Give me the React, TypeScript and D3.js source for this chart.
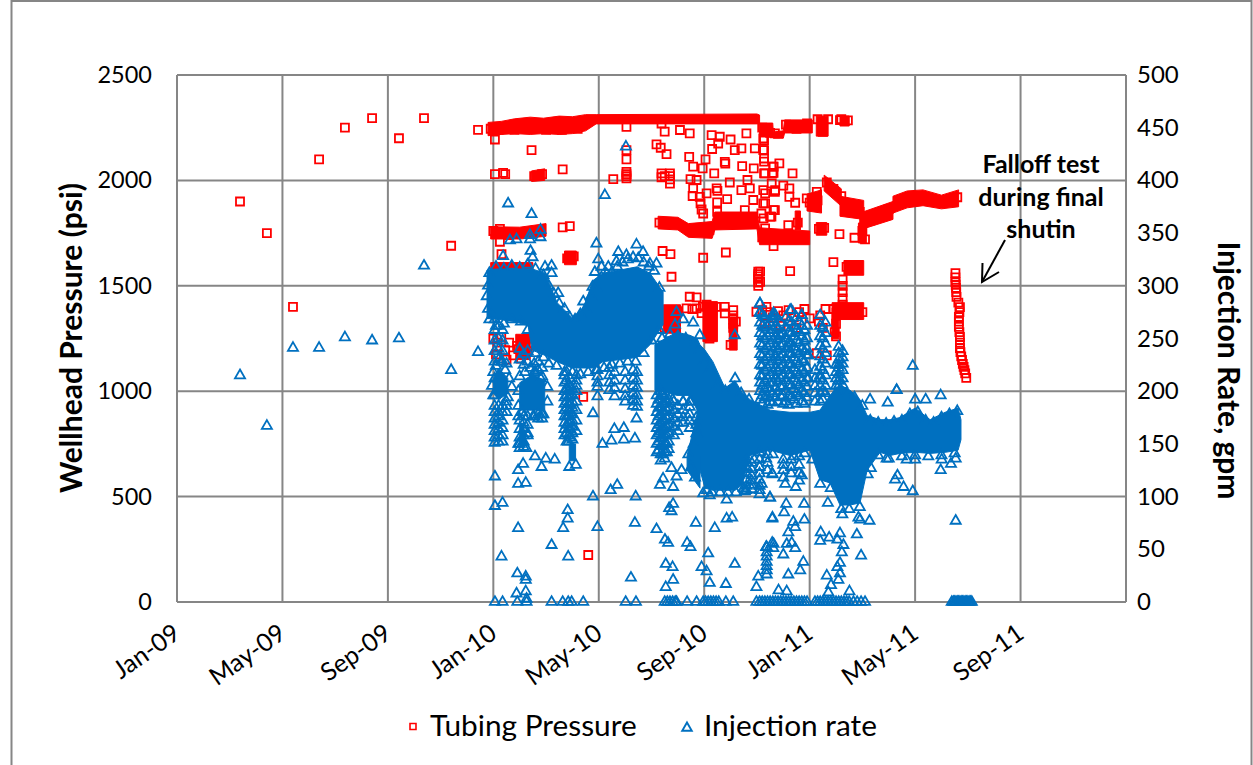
import React from "react";
import * as d3 from "d3";

const xLabels = ["Jan-09","May-09","Sep-09","Jan-10","May-10","Sep-10","Jan-11","May-11","Sep-11"];
const xTickMonths = [0,4,8,12,16,20,24,28,32,36];
const pressureTicks = [0,500,1000,1500,2000,2500];
const rateTicks = [0,50,100,150,200,250,300,350,400,450,500];

// Solid overplotted regions: the individual readings cannot be told apart here, so each one
// is drawn as a filled outline as [month, upper, lower].
const pressureMasses: number[][][] = [
  [[11.8,2275,2212],[12.3,2280,2218],[12.8,2292,2222],[13.4,2300,2218],[13.9,2295,2222],[14.5,2305,2218],[15,2302,2222],[15.5,2312,2235],[15.9,2312,2268],[22,2315,2268],[22.1,2310,2268]],
  [[22.1,2272,2206],[22.6,2272,2206],[22.62,2230,2200],[23,2235,2200],[23.05,2287,2225],[24.1,2287,2225]],
  [[24.25,2305,2210],[24.7,2305,2210]],
  [[25.15,2305,2258],[25.5,2305,2258]],
  [[11.9,1780,1722],[13,1778,1722],[14,1795,1735]],
  [[13.45,2045,1995],[13.95,2055,2000]],
  [[14.7,1665,1600],[15.15,1665,1600]],
  [[18.25,1830,1770],[19,1825,1765],[19.4,1795,1730],[20.3,1805,1725],[20.4,1850,1765],[22,1850,1770],[22.1,1775,1695],[24,1760,1695]],
  [[23.45,1855,1765],[23.65,1855,1765]],
  [[24.25,1800,1740],[24.65,1800,1740]],
  [[23.9,1935,1855],[24.45,1955,1845]],
  [[24.55,2025,1950],[25.2,1960,1878]],
  [[25.15,1925,1830],[26.05,1905,1815]],
  [[25.85,1798,1703],[26.15,1798,1703]],
  [[25.9,1845,1765],[27.16,1900,1815]],
  [[27.16,1925,1845],[27.7,1950,1870],[28.3,1955,1880],[29,1930,1865],[29.65,1955,1875]],
  [[25.3,1620,1550],[26.05,1620,1550]],
  [[24.85,1420,1340],[26.05,1420,1340]],
  [[24.85,1395,1248],[25.1,1395,1248]],
  [[11.9,1610,1565],[13.5,1610,1565]],
  [[12.85,1270,1150],[13.4,1270,1150]],
  [[18.45,1410,1275],[19.1,1410,1275]],
  [[19.95,1425,1235],[20.5,1425,1235]],
  [[20.95,1350,1195],[21.25,1350,1195]],
];
const rateMasses: number[][][] = [
  [[11.76,315,269],[12.25,316,268],[12.82,316,266],[13.32,316,262],[13.47,316,239],[13.96,312,234],[14.42,284,228],[14.98,270,222],[15.4,278,222],[15.78,305,222],[16.16,312,228],[16.81,315,230],[17.45,318,232],[17.94,312,244],[18.44,294,263]],
  [[18.13,244,201],[18.51,250,199],[18.97,256,196],[19.46,253,196],[19.73,250,182],[19.84,244,125],[20.03,239,108],[20.33,228,106],[20.79,203,106],[21.17,210,106],[21.43,199,111],[21.74,192,139],[22.5,182,144],[23.25,180,139],[24.01,180,144],[24.39,182,116],[24.77,196,113],[25.15,206,92],[25.53,201,92],[25.91,192,94],[26.18,177,125],[26.67,173,142],[27.05,173,139],[27.43,175,141],[28,184,142],[28.57,173,141],[29.14,180,142],[29.63,184,144],[29.74,173,154]],
  [[19.35,139,125],[19.84,190,108]],
  [[12,212,198],[12.2,222,192],[12.55,212,198]],
  [[13,208,182],[13.5,216,182],[13.95,210,182]],
  [[13,172,148],[13.22,160,148]],
  [[14.88,150,134],[15.12,150,134]],
];

const pressurePoints: number[][] = [
  [2.39,1900],[3.41,1750],[4.4,1400],[5.39,2100],[6.37,2250],[7.4,2295],[8.42,2200],[9.37,2295],[10.4,1690],[11.42,2240],
  [12.06,2194],[13.45,2144],[12.06,2030],[12.37,2036],[12.45,2030],[14.63,2052],[16.55,2006],[17.05,2100],[17.05,2144],[17.05,2040],[17.05,2030],[17.05,2020],[17.05,2010],[17.05,2254],
  [18.19,2171],[18.35,2155],[18.57,2125],[18.5,2231],[18.38,2270],[19.08,2239],[19.45,2223],[19.43,2112],[20.05,2100],[20.3,2149],[20.28,2215],[20.59,2207],[20.53,2175],[20.78,2088],[20.8,2080],[21,2194],[21.16,2144],[21.6,2223],[21.41,2152],[21.92,2152],[22.24,2199],[22.24,2144],[22.27,2089],[21.44,2068],[21.88,2057],[22.62,2065],[22.68,2223],[22.3,2033],[22.59,2033],
  [19.58,2065],[19.94,2057],[20.38,2033],[19.48,2006],[19.71,2002],[19.58,1962],[20.47,1962],[20.5,1950],[20.97,1990],[19.56,1926],[19.83,1922],[20.09,1938],[19.86,1891],[20.49,1896],[20.87,1911],[19.9,1862],[19.96,1843],[20.49,1851],[21.41,1954],[21.64,2002],[21.73,1962],[22.24,1954],[22.68,1946],[21.54,1859],[21.86,1907],[22.24,1891],[22.68,1859],[22.17,1843],[22.55,1828],
  [18.38,2033],[18.38,2015],[18.7,2033],[18.7,2020],[18.7,2005],[18.7,1985],[18.5,2020],
  [18.76,1543],[19.96,1633],[20.82,1658],[18.42,1665],[18.72,1650],[22.05,1567],[22.05,1555],[22.05,1545],[22.05,1533],[22.05,1515],[22.05,1500],[12.25,1709],[12.31,1650],[14.9,1783],[14.63,1777],[12.25,1770],
  [19.45,1448],[19.71,1445],[19.33,1393],[19.71,1393],[20.09,1410],[20.34,1400],[20.78,1400],[20.78,1369],[21.1,1385],[21.1,1360],[21.1,1340],[21.1,1320],[21.1,1300],[21.98,1377],[22.36,1400],[19.55,1390],[19.9,1370],[20.2,1350],
  [15.41,973],[15.6,223],
  [22.85,2081],[23.35,2033],[22.63,2065],[22.63,2036],[22.27,2191],[22.27,2144],[22.27,2104],[22.27,2033],[22.56,1986],[23,1975],[23.23,1962],[22.69,1954],[23.23,1922],[23.45,1894],[22.31,1938],[22.31,1891],[22.63,1859],[22.5,1828],[22.25,1820],[23.19,1788],[22.31,1772],[22.63,1688],[22.12,1567],[22.12,1519],[23.26,1570],[23.89,1915],[24.27,1946],[25.13,1745],[25.7,1728],[25.15,2286],[24.9,1612],
  [25.25,1530],[25.25,1500],[25.25,1470],[25.25,1440],[25.25,1410],[24.27,1180],[24.65,1170],[24.6,1390],[24.4,1360],[24.35,1330],[24.5,1300],
  [22.2,1385],[22.4,1375],[22.6,1350],[22.8,1380],[23,1360],[23.2,1385],[23.4,1350],[23.6,1375],[23.8,1390],[24,1345],[22.3,1320],[22.9,1310],[23.5,1300],
  [12,1250],[12.15,1230],[12.3,1255],[12.45,1195],[12.6,1230],[12.75,1170],[12.9,1215],[13.05,1155],[13.2,1240],[12.1,1175],[12.5,1150],[13.3,1190],[14,1215],[14.3,1200],[14.6,1195],
  [29.53,1560],[29.53,1540],[29.53,1518],[29.54,1505],[29.55,1490],[29.56,1470],[29.57,1447],[29.64,1420],[29.7,1399],[29.68,1375],[29.66,1352],[29.66,1330],[29.66,1305],[29.68,1280],[29.7,1257],[29.7,1230],[29.7,1205],[29.72,1185],[29.75,1165],[29.78,1148],[29.81,1130],[29.84,1115],[29.87,1100],[29.9,1085],[29.94,1063],
];

// Squares sitting on the edges of the solid red regions, which give them their lumpy outline.
const pressureEdgePoints: number[][] = [
  [11.9,2245],[12.2,2240],[12.5,2255],[12.8,2240],[13.1,2265],[13.4,2245],[13.7,2270],[14,2240],[14.3,2272],[14.6,2240],[14.9,2272],[15.2,2245],[15.5,2280],
  [22.2,2250],[22.5,2225],[23.1,2265],[23.5,2245],[23.9,2270],[24.3,2290],[24.5,2230],[24.7,2290],[25.2,2290],[25.45,2285],
  [12,1760],[12.3,1745],[12.6,1740],[13,1750],[13.4,1755],[13.8,1765],[13.55,2020],[13.85,2030],[14.8,1630],[15.05,1640],
  [18.3,1800],[18.6,1795],[18.9,1795],[19.5,1770],[19.8,1755],[20.2,1765],[20.6,1815],[21,1820],[21.4,1810],[21.8,1820],[22.2,1730],[22.6,1725],[23,1730],[23.4,1720],[23.8,1735],
  [24,1895],[24.3,1905],[24.65,1990],[24.9,1960],[25.2,1925],[25.5,1870],[25.9,1850],[26,1760],[26.1,1720],[26.3,1810],[26.7,1840],[27,1865],[27.4,1895],[27.8,1915],[28.2,1925],[28.6,1910],[29,1900],[29.4,1905],[29.6,1920],
  [24.9,1390],[25.3,1395],[25.7,1390],[26,1375],[24.95,1280],[25,1260],[25.4,1590],[25.8,1590],[24.35,1770],[24.55,1775],[23.55,1800],[25,1320],
  [19.95,1400],[20.45,1400],[20.2,1250],[18.5,1300],[19,1380],[21,1220],[21.2,1330],[12.95,1200],[13.3,1250],
];

const ratePoints: number[][] = [
  [2.39,215],[3.41,167],[4.4,241],[5.39,241],[6.37,251],[7.4,248],[8.42,250],[9.37,319],[10.4,220],[11.42,237],
  [12.56,378],[13.45,368],[13.79,353],[13.39,348],[13.79,346],[13.39,344],[12.88,344],[12.63,343],[13.41,333],[12.37,328],[13.49,327],[14.21,319],[13.96,318],[14.21,312],[14.46,293],[15.41,285],[16.23,386],[17.03,432],[15.91,340],[15.98,325],[15.85,313],[15.76,299],[16.74,332],[17.05,329],[17.43,339],[17.68,332],[18.19,321],[17.94,321],[16.67,323],[16.36,318],[16.1,318],
  [18.95,275],[19.2,268],[19.58,265],[18.89,263],[19.83,253],[21.16,253],[22.11,283],[22.11,274],[22.62,271],
  [22.63,274],[23.26,277],[23.7,272],[22.88,253],[23.19,242],[22.69,233],[23.95,234],[24.4,215],[23.95,212],[25.09,210],[27.91,224],[27.3,201],
  [12.06,91],[12.35,94],[14.82,87],[14.82,79],[14.65,70],[12.94,70],[15.95,71],[14.21,54],[12.31,43],[14.84,43],[12.91,27],[13.23,24],[13.23,21],[12.88,8],[13.23,10],[13.26,3],
  [15.78,100],[16.45,106],[16.7,111],[17.4,100],[18.82,93],[18.67,89],[18.76,86],[17.37,75],[18.19,69],[19.68,75],[20.4,70],[20.85,79],[21.06,80],[22.58,79],[18.51,59],[18.63,56],[19.35,56],[19.48,52],[20.15,46],[18.54,36],[18.8,33],[19.9,33],[20.09,29],[21.16,36],[17.22,23],[18.82,21],[20.21,18],[20.82,17],[18.54,14],[22.05,24],[22.36,52],[22.58,56],[22.62,51],[21.98,14],
  [15.78,179],[17.43,174],[16.59,164],[16.95,165],[16.48,153],[16.95,154],[17.37,155],[16.14,150],
  [12.06,119],[12.94,125],[13.13,131],[13.58,138],[13.99,136],[14.33,135],[13.83,128],[12.94,112],[13.23,113],[14.88,128],[15.13,130],[18.32,111],[18.44,117],[18.76,127],[19.14,125],[18.82,109],[18.95,119],[19.96,103],[20.21,101],[20.85,97],[21.54,105],[22.49,99],[22.58,122],
  [27.3,201],[28,192],[28.4,192],[28.97,196],[26.29,192],[26.96,189],[29.54,77],[27.91,105],[27.56,109],[27.33,120],[27.24,116],[28.97,125],[29.36,131],[29.54,136],[29.01,135],[27.68,135],[28,135],[26.92,136],[26.32,127],
  [24.69,94],[25.24,83],[25.85,80],[25.91,78],[26.27,77],[25.79,64],[24.42,66],[24.74,61],[25.15,65],[25.05,59],[24.4,58],[25.28,54],[25.22,47],[25.95,44],[25.15,37],[25.05,33],[24.65,25],[25.15,27],[25.09,21],[24.81,16],[25.51,10],[24.71,9],
  [22.5,99],[23.11,93],[23.79,93],[22.59,80],[23.03,85],[23.8,78],[23.38,76],[23.45,71],[23.19,66],[23.13,55],[23.32,56],[22.63,55],[22.35,52],[23.45,51],[23,45],[23.76,38],[23.64,30],[23.19,26],[22.82,11],[23.13,10],
  [22.59,121],[23.7,120],[23.47,109],[23.07,112],[22.18,112],[22.35,136],
];

// Triangles sitting on the edges of the solid blue regions.
const rateEdgePoints: number[][] = [
  [11.85,312],[12.1,318],[12.4,316],[12.7,319],[13,317],[13.3,320],[13.6,316],[13.9,310],[14.1,300],[14.3,292],[14.5,283],[14.7,278],[14.9,270],[15.1,268],[15.3,273],[15.5,278],[15.7,290],[15.9,298],[16.1,308],[16.3,311],[16.5,313],[16.7,318],[16.9,322],[17.1,325],[17.3,327],[17.5,326],[17.7,322],[17.9,318],[18.1,314],[18.3,298],
  [11.8,300],[11.75,290],[11.8,278],[11.85,268],[12.1,262],[12.4,264],[12.7,268],[13.05,266],[13.3,258],
  [13.6,236],[13.9,232],[14.1,226],[14.4,224],[14.7,218],[15,218],[15.3,216],[15.6,218],[15.9,220],[16.2,222],[16.5,225],[16.8,226],[17.1,228],[17.4,228],[17.7,236],[18,248],[18.3,258],
  [18.4,250],[18.7,254],[19,252],[19.3,250],[19.6,244],[19.8,238],[20,228],[20.2,220],[20.5,205],[20.8,200],[21.17,212],[21.4,198],[21.7,192],[26.3,172],[26.6,170],[26.9,169],[27.2,171],[27.5,172],[27.8,178],[28.1,180],[28.4,172],[28.7,170],[29,175],[29.3,178],[29.6,181],[25.4,198],[25.7,194],[26,186],
  [18.4,198],[18.8,192],[19.2,190],[19.5,190],[20.1,106],[20.3,104],[20.6,104],[20.9,104],[21.2,104],[21.5,108],[21.9,135],[22.1,142],[22.6,140],[23,135],[23.4,138],[23.8,141],[24.1,135],[24.4,112],[24.8,108],[25.2,88],[25.5,88],[25.9,90],[26.2,121],[26.6,139],[27,136],[27.5,138],[28,139],[28.5,138],[29,139],[29.5,141],
  [19.4,140],[19.5,128],[19.65,118],[19.75,160],[19.6,150],
  [12,218],[12.1,224],[12.3,228],[12.45,220],[12.6,212],[12.7,204],[11.95,205],[12,196],[12.55,194],
  [13,214],[13.2,218],[13.4,222],[13.6,218],[13.8,212],[14.05,204],[14.05,190],[12.95,200],[12.95,186],[13.5,176],[13.9,178],
  [12.95,176],[13.1,180],[13.3,158],[12.95,150],[13.25,146],
];

// Columns of stacked markers below and above the solid regions: [month, [rates]].
const rateColumns: [number, number[]][] = [
  [12.05,[268,258,248,238,228,212,196,186,180,174,168,162,156,151]],
  [12.2,[262,250,240,230,186,180,176,170,164,158,152]],
  [12.35,[258,248,238,228,186,180,172,165,158,152]],
  [12.5,[226,190,186,180]],
  [13,[240,230,172,164,156,150,146]],
  [13.15,[235,225,176,170,164,158,152,147]],
  [13.3,[238,228,176,168,160]],
  [13.55,[226,218,176]],
  [13.7,[228,220,178,174]],
  [13.85,[222,214,178,174]],
  [14.7,[215,208,200,194,188,182,176,170,164,158]],
  [14.78,[218,210,202,196,190,184,176,168,160,152]],
  [14.85,[206,200,194,188,182,176,170,164,158,152]],
  [14.92,[212,204,196,188,180,172,164,156]],
  [15,[202,196,190,184,178,172,166,160,154]],
  [15.15,[215,210,205,200,190,182,172,162]],
  [15.95,[220,214,208,204,195]],
  [16.4,[222,215,208,201]],
  [16.6,[218,210,203,195]],
  [17,[218,210,202,195,190]],
  [17.3,[220,212,205,198,192,186]],
  [17.45,[218,210,203,196,190,185]],
  [18.2,[196,188,180,172,165,158,150,142]],
  [18.27,[192,184,176,168,160,152,144]],
  [18.35,[200,192,185,178,170,162,155,148,140,134]],
  [18.43,[196,188,180,172,164,156,148,140]],
  [18.5,[195,188,180,172,165,158,150,142,136]],
  [18.58,[190,182,174,166,158,150,142]],
  [18.65,[192,184,176,168,160,152,145]],
  [18.85,[190,182,174,166,158]],
  [19,[186,178,170,162]],
  [19.2,[190,182,175,170]],
  [19.45,[190,185,178,172,165]],
  [19.7,[175,168,160]],
  [21.6,[134,128,122,116,110,106]],
  [21.8,[132,126,120,115,111,107]],
  [22.1,[135,128,122,116,110,106,102]],
  [22.4,[140,132,125]],
  [23,[130,125,118]],
  [23.3,[135,128,122]],
  [23.6,[138,130,122,115]],
  [22.37,[52,47,43,38,34,30,26]],
  [22.12,[283,275,265,255,245,235,225,215,208,200,192]],
  [22.2,[272,262,252,243,233,224,214,205,196,188]],
  [22.3,[270,260,250,240,230,220,210,202,194]],
  [22.4,[262,252,242,232,222,212,203,195,187]],
  [22.5,[265,255,245,235,225,215,208,200,190]],
  [22.6,[268,258,248,238,228,218,208,198,189]],
  [22.7,[272,262,252,242,233,222,212,203,194]],
  [22.8,[260,250,240,230,220,210,200,190]],
  [22.9,[265,253,243,232,222,212,204,195]],
  [23,[255,245,235,225,215,205,196,188]],
  [23.1,[270,260,250,240,230,220,210,200,190]],
  [23.2,[266,256,246,236,226,216,206,196,187]],
  [23.3,[277,265,255,245,235,225,215,205,194]],
  [23.4,[262,252,242,232,222,212,202,192]],
  [23.5,[270,258,248,238,228,218,208,198,188]],
  [23.6,[266,256,246,236,226,216,206,196]],
  [23.7,[272,262,252,240,230,220,210,200,190]],
  [23.8,[258,248,238,228,218,208,198,188]],
  [23.9,[262,250,240,234,222,212,204,194]],
  [24.2,[220,212,205,198,190]],
  [24.4,[272,262,252,243,233,223,212,205,198,190]],
  [24.5,[260,250,240,230,220,210,200,192]],
  [24.6,[265,255,245,236,226,215,205,198]],
  [25,[225,218,212,205,198]],
  [25.1,[242,236,230,225,222,216,210,205]],
  [25.25,[238,232,226,220,212,206]],
];

// Months with a zero injection-rate reading.
const zeroRateMonths = [12.06,12.35,12.91,13.26,14.21,14.63,14.84,14.97,15.41,17.02,17.41,18.5,18.6,18.7,18.8,18.9,18.95,19.35,19.71,19.96,20.05,20.15,20.25,20.35,20.45,20.55,20.82,21.1,21.98,22.1,22.2,22.3,22.4,22.5,22.6,22.7,22.8,22.9,23,23.1,23.2,23.3,23.4,23.5,23.6,23.7,23.8,23.9,24.2,24.3,24.4,24.5,24.6,24.7,24.8,24.9,25,25.1,25.2,25.3,25.4,25.5,25.66,25.8,25.95,26.1,29.39,29.45,29.5,29.55,29.6,29.65,29.7,29.75,29.8,29.85,29.9,29.95,30,30.05,30.1,30.15];

const annotationLines = ["Falloff test","during final","shutin"];
const FONT = "Lato, 'Open Sans', sans-serif";
const GRID = "#868686";
const RED = "#FF0000";
const BLUE = "#0070C0";

const x = d3.scaleLinear().domain([0, 36]).range([177, 1126]);
const yP = d3.scaleLinear().domain([0, 2500]).range([602, 75]);
const yR = d3.scaleLinear().domain([0, 500]).range([602, 75]);

const squarePath = d3.symbol(d3.symbolSquare, 64)() as string;
const trianglePath = d3.symbol(d3.symbolTriangle, 44)() as string;

function massPath(rows: number[][], y: d3.ScaleLinear<number, number>) {
  return d3.area<number[]>().x((d) => x(d[0])).y0((d) => y(d[2])).y1((d) => y(d[1])).curve(d3.curveLinear)(rows) as string;
}

const allPressure: number[][] = [...pressurePoints, ...pressureEdgePoints];
const allRate: number[][] = [
  ...ratePoints,
  ...rateEdgePoints,
  ...rateColumns.flatMap(([m, rs]) => rs.map((r) => [m, r])),
  ...zeroRateMonths.map((m) => [m, 0]),
];

export default function App() {
  return (
    <svg width={1253} height={765} viewBox="0 0 1253 765" style={{ position: "absolute", left: 0, top: 0, background: "#fff" }} fontFamily={FONT}>
      <rect x={11.5} y={1} width={1240} height={800} fill="#fff" stroke={GRID} strokeWidth={2} />
      {pressureTicks.map((t) => (
        <line key={t} x1={177} x2={1126} y1={yP(t)} y2={yP(t)} stroke={GRID} strokeWidth={2} />
      ))}
      {xTickMonths.map((m) => (
        <line key={m} x1={x(m)} x2={x(m)} y1={75} y2={602} stroke={GRID} strokeWidth={2} />
      ))}
      {pressureMasses.map((r, i) => (
        <path key={i} d={massPath(r, yP)} fill={RED} stroke={RED} strokeWidth={1} strokeLinejoin="round" />
      ))}
      {allPressure.map((d, i) => (
        <path key={i} d={squarePath} transform={`translate(${x(d[0])},${yP(d[1])})`} fill="none" stroke={RED} strokeWidth={1.8} />
      ))}
      {rateMasses.map((r, i) => (
        <path key={i} d={massPath(r, yR)} fill={BLUE} stroke={BLUE} strokeWidth={1} strokeLinejoin="round" />
      ))}
      {allRate.map((d, i) => (
        <path key={i} d={trianglePath} transform={`translate(${x(d[0])},${yR(d[1])})`} fill="none" stroke={BLUE} strokeWidth={1.8} />
      ))}
      {pressureTicks.map((t) => (
        <text key={t} x={152} y={yP(t) + 8} textAnchor="end" fontSize={23.5} fill="#000">{t}</text>
      ))}
      {rateTicks.map((t) => (
        <text key={t} x={1137} y={yR(t) + 8} textAnchor="start" fontSize={24} fill="#000">{t}</text>
      ))}
      {xLabels.map((l, i) => (
        <text key={l} transform={`translate(${x(xTickMonths[i]) + 5},${637}) rotate(-35)`} textAnchor="end" fontSize={25} fill="#000">{l}</text>
      ))}
      <text transform="translate(82,338) rotate(-90)" textAnchor="middle" fontSize={30} fontWeight="bold" fill="#000">Wellhead Pressure (psi)</text>
      <text transform="translate(1218,370.5) rotate(90)" textAnchor="middle" fontSize={30} fontWeight="bold" fill="#000">Injection Rate, gpm</text>
      {annotationLines.map((l, i) => (
        <text key={l} x={1041} y={173 + i * 32.5} textAnchor="middle" fontSize={25} fontWeight="bold" fill="#000">{l}</text>
      ))}
      <line x1={1005} y1={240} x2={982} y2={282} stroke="#000" strokeWidth={2} />
      <path d="M982.5,263 L982,282 L999,272" fill="none" stroke="#000" strokeWidth={2} />
      <path d={d3.symbol(d3.symbolSquare, 56)() as string} transform="translate(413,726.5) scale(0.8)" fill="none" stroke={RED} strokeWidth={2} />
      <text x={430} y={736} fontSize={29.8} fill="#000">Tubing Pressure</text>
      <path d={d3.symbol(d3.symbolTriangle, 36)() as string} transform="translate(687,728) scale(1.05)" fill="none" stroke={BLUE} strokeWidth={1.8} />
      <text x={704} y={736} fontSize={29.8} fill="#000">Injection rate</text>
    </svg>
  );
}
